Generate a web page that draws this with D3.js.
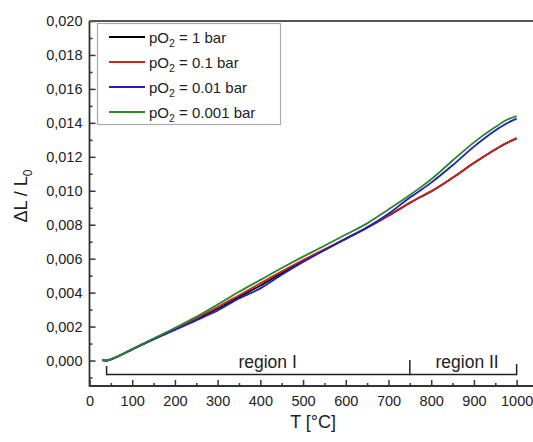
<!DOCTYPE html>
<html>
<head>
<meta charset="utf-8">
<script src="https://cdn.jsdelivr.net/npm/d3@7"></script>
<style>
  html, body { margin: 0; padding: 0; background: #fff; }
  svg { display: block; font-family: "Liberation Sans", Arial, sans-serif; }
</style>
</head>
<body>
<svg id="chart" width="533" height="442"></svg>
<script>
// Temperatures (°C) at which the dilatometer curves are sampled
const temps = [30, 40, 60, 100, 150, 200, 250, 300, 350, 400, 450, 500, 550, 600, 650, 700, 750, 775, 800, 850, 900, 950, 975, 1000];

// Relative length change ΔL/L0 for each oxygen partial pressure
const pO2_1 = [0.00003, 0, 0.00017, 0.00066, 0.00127, 0.00185, 0.00245, 0.00305, 0.00375, 0.00442, 0.00515, 0.00587, 0.00652, 0.00716, 0.00782, 0.00853, 0.00928, 0.00963, 0.00996, 0.01076, 0.01163, 0.01243, 0.01279, 0.01309];
const pO2_01 = [0.00003, 0, 0.00018, 0.00067, 0.00128, 0.00188, 0.00250, 0.00315, 0.00385, 0.00455, 0.00525, 0.00592, 0.00655, 0.00718, 0.00783, 0.00855, 0.00930, 0.00965, 0.00998, 0.01078, 0.01165, 0.01245, 0.01280, 0.01310];
const pO2_001 = [0.00003, 0, 0.00017, 0.00066, 0.00125, 0.00180, 0.00237, 0.00295, 0.00365, 0.00425, 0.00505, 0.00580, 0.00650, 0.00718, 0.00785, 0.00865, 0.00960, 0.01003, 0.01048, 0.01150, 0.01260, 0.01355, 0.01395, 0.01425];
const pO2_0001 = [0.00003, 0, 0.00018, 0.00068, 0.00130, 0.00192, 0.00257, 0.00330, 0.00405, 0.00475, 0.00545, 0.00612, 0.00676, 0.00742, 0.00808, 0.00890, 0.00975, 0.01020, 0.01068, 0.01178, 0.01285, 0.01375, 0.01415, 0.01440];

const seriesNames = ["1", "0.1", "0.01", "0.001"];
const seriesColors = ["#000000", "#d02424", "#1c1cc8", "#2a882a"];
const seriesValues = [pO2_1, pO2_01, pO2_001, pO2_0001];

// Axis ticks
const xTicks = [0, 100, 200, 300, 400, 500, 600, 700, 800, 900, 1000];
const xMinorTicks = [50, 150, 250, 350, 450, 550, 650, 750, 850, 950];
const yTicks = [0, 0.002, 0.004, 0.006, 0.008, 0.010, 0.012, 0.014, 0.016, 0.018, 0.020];
const yMinorTicks = [-0.001, 0.001, 0.003, 0.005, 0.007, 0.009, 0.011, 0.013, 0.015, 0.017, 0.019];

// Temperature regions marked below the curves
const regionBounds = [40, 750, 1000];
const regionLabels = ["region I", "region II"];
const regionLabelAt = [417, 884];

const svg = d3.select("#chart");
const plotLeft = 89.5, plotRight = 538, plotTop = 21, plotBottom = 386;

const x = d3.scaleLinear().domain([0, 1050]).range([plotLeft, plotRight]);
const y = d3.scaleLinear().domain([-0.0015, 0.020]).range([plotBottom, plotTop]);

const comma = d3.formatLocale({ decimal: ",", thousands: ".", grouping: [3], currency: ["", ""] });
const fmtY = comma.format(".3f");

// Curves
const line = d3.line()
  .x(d => x(d[0]))
  .y(d => y(d[1]))
  .curve(d3.curveMonotoneX);

seriesValues.forEach((vals, i) => {
  svg.append("path")
    .datum(temps.map((t, j) => [t, vals[j]]))
    .attr("fill", "none")
    .attr("stroke", seriesColors[i])
    .attr("stroke-width", 1.8)
    .attr("stroke-linejoin", "round")
    .attr("d", line);
});

// Axes with inward ticks
const axisColor = "#333";
const gx = svg.append("g").attr("transform", `translate(0,${plotBottom})`)
  .call(d3.axisBottom(x).tickValues(xTicks).tickSize(-6).tickPadding(10).tickFormat(d3.format("d")));
const gxm = svg.append("g").attr("transform", `translate(0,${plotBottom})`)
  .call(d3.axisBottom(x).tickValues(xMinorTicks).tickSize(-3).tickFormat(""));
const gy = svg.append("g").attr("transform", `translate(${plotLeft},0)`)
  .call(d3.axisLeft(y).tickValues(yTicks).tickSize(-6).tickPadding(7).tickFormat(fmtY));
const gym = svg.append("g").attr("transform", `translate(${plotLeft},0)`)
  .call(d3.axisLeft(y).tickValues(yMinorTicks).tickSize(-3).tickFormat(""));

[gx, gxm, gy, gym].forEach(g => {
  g.select(".domain").remove();
  g.selectAll(".tick line").attr("stroke", axisColor).attr("stroke-width", 1.5);
  g.selectAll("text").attr("fill", "#222").style("font-size", "14.5px")
    .style("font-family", "'Liberation Sans', Arial, sans-serif");
});

// Frame lines: left, bottom and top
svg.append("line").attr("x1", plotLeft).attr("x2", plotLeft).attr("y1", plotTop).attr("y2", plotBottom + 0.75)
  .attr("stroke", axisColor).attr("stroke-width", 1.8);
svg.append("line").attr("x1", plotLeft).attr("x2", 533).attr("y1", plotBottom).attr("y2", plotBottom)
  .attr("stroke", axisColor).attr("stroke-width", 1.8);
svg.append("line").attr("x1", plotLeft).attr("x2", 533).attr("y1", plotTop).attr("y2", plotTop)
  .attr("stroke", "#555").attr("stroke-width", 1.8);

// Region bracket
const bracketY = 374.5;
svg.append("line")
  .attr("x1", x(regionBounds[0])).attr("x2", x(regionBounds[2]))
  .attr("y1", bracketY).attr("y2", bracketY)
  .attr("stroke", "#222").attr("stroke-width", 1.5);
const bracketTickTop = [366, 360, 364];
regionBounds.forEach((b, i) => {
  svg.append("line")
    .attr("x1", x(b)).attr("x2", x(b))
    .attr("y1", bracketTickTop[i]).attr("y2", bracketY + 0.75)
    .attr("stroke", "#222").attr("stroke-width", 1.5);
});
regionLabels.forEach((lab, i) => {
  svg.append("text")
    .attr("x", x(regionLabelAt[i])).attr("y", 368)
    .attr("text-anchor", "middle")
    .attr("fill", "#222")
    .style("font-size", "17.5px")
    .text(lab);
});

// Axis titles
svg.append("text")
  .attr("x", (x(0) + x(1000)) / 2 + 10).attr("y", 428)
  .attr("text-anchor", "middle").attr("fill", "#222")
  .style("font-size", "18px")
  .text("T [°C]");

const yTitle = svg.append("text")
  .attr("transform", `translate(27,196) rotate(-90)`)
  .attr("text-anchor", "middle").attr("fill", "#222")
  .style("font-size", "18px");
yTitle.append("tspan").text("ΔL / L");
yTitle.append("tspan").attr("dy", 5).style("font-size", "12px").text("0");

// Legend
const legend = svg.append("g");
legend.append("rect")
  .attr("x", 97.5).attr("y", 23.5).attr("width", 183).attr("height", 101)
  .attr("fill", "#fff").attr("stroke", "#aaa").attr("stroke-width", 1.2);
seriesNames.forEach((name, i) => {
  const cy = 37 + i * 25;
  legend.append("line")
    .attr("x1", 109).attr("x2", 145).attr("y1", cy).attr("y2", cy)
    .attr("stroke", seriesColors[i]).attr("stroke-width", 1.8);
  const t = legend.append("text")
    .attr("x", 149).attr("y", cy + 5.5)
    .attr("fill", "#222").style("font-size", "15px");
  t.append("tspan").text("pO");
  t.append("tspan").attr("dy", 4).style("font-size", "10.5px").text("2");
  t.append("tspan").attr("dy", -4).text(` = ${name} bar`);
});
</script>
</body>
</html>
